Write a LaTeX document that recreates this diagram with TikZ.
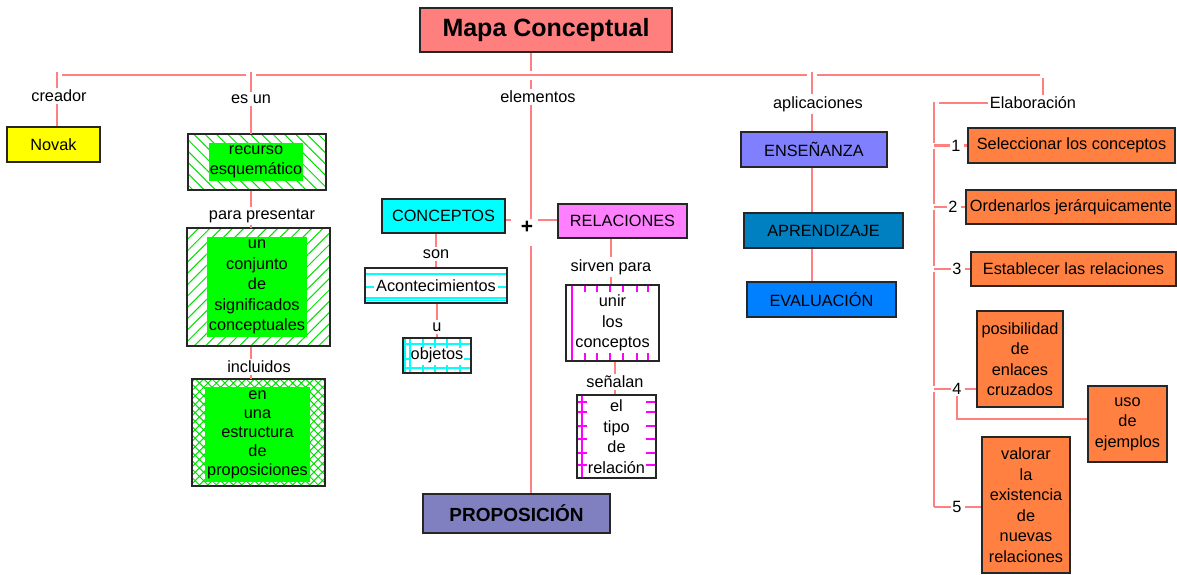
\documentclass[tikz,border=0pt]{standalone}
\usepackage{fontspec}
\setmainfont{Liberation Sans}
\usetikzlibrary{patterns.meta}
\definecolor{pinkline}{HTML}{FF8080}
\definecolor{titlefill}{HTML}{FF7F7F}
\definecolor{novakfill}{HTML}{FFFF00}
\definecolor{gfill}{HTML}{00FF00}
\definecolor{gpat}{HTML}{00E000}
\definecolor{cyfill}{HTML}{00FFFF}
\definecolor{relfill}{HTML}{FF80FF}
\definecolor{magline}{HTML}{FF00FF}
\definecolor{ensfill}{HTML}{8080FF}
\definecolor{aprfill}{HTML}{0080C0}
\definecolor{evafill}{HTML}{0080FF}
\definecolor{orfill}{HTML}{FF8040}
\definecolor{propfill}{HTML}{8080C0}
\definecolor{edge}{HTML}{262626}
\begin{document}
\begin{tikzpicture}[x=1pt, y=-1pt,
  every node/.style={font=\fontsize{16.3}{20.5}\selectfont},
  box/.style={draw=edge, line width=1.3pt, inner sep=0pt, align=center},
  inbox/.style={fill=gfill, inner sep=0pt, align=center},
  conn/.style={draw=pinkline, line width=2.8pt},
  lbl/.style={inner sep=2pt, align=center},
  num/.style={inner sep=1.5pt},
  cydeco/.style={draw=cyfill, line width=1.5pt},
  mgdeco/.style={draw=magline, line width=1.5pt}]
\path[use as bounding box, fill=white] (0,0) rectangle (1177,574);

% ---------- box decorations (drawn first, behind the boxes' text) ----------
\coordinate (aconNW) at (365,268);
\coordinate (objNW) at (403,338);
\coordinate (unirNW) at (566,285);
\coordinate (tipoNW) at (577,395);
\begin{scope}[shift={(aconNW)}]
  \draw[cydeco] (0,6) -- (142,6);
  \draw[cydeco] (0,30) -- (142,30);
  \draw[cydeco] (0,32.5) -- (142,32.5);
  \draw[cydeco] (0,19) -- (9,19);
  \draw[cydeco] (133,19) -- (142,19);
\end{scope}
\begin{scope}[shift={(objNW)}]
  \draw[cydeco] (2,0) -- (2,35);
  \draw[cydeco] (7,0) -- (7,35);
  \draw[cydeco] (0,6) -- (68,6);
  \draw[cydeco] (0,30) -- (68,30);
  \draw[cydeco] (0,21) -- (7,21);
  \draw[cydeco] (61,21) -- (68,21);
  \foreach \xx in {20,32,44,57} {\draw[cydeco] (\xx,0) -- (\xx,10); \draw[cydeco] (\xx,27) -- (\xx,35);}
\end{scope}
\begin{scope}[shift={(unirNW)}]
  \draw[mgdeco] (6,0) -- (6,76);
  \foreach \xx in {19,31,44,57,71,82} {\draw[mgdeco] (\xx,0) -- (\xx,7); \draw[mgdeco] (\xx,68) -- (\xx,76);}
\end{scope}
\begin{scope}[shift={(tipoNW)}]
  \draw[mgdeco] (5,0) -- (5,83);
  \foreach \yy in {7,17,31,44,58,70} {\draw[mgdeco] (0,\yy) -- (10,\yy); \draw[mgdeco] (69,\yy) -- (79,\yy);}
\end{scope}

% ---------- nodes ----------
\node[box, fill=titlefill, minimum width=252, minimum height=44,
      font=\bfseries\fontsize{25}{28}\selectfont] (title) at (546,30) {Mapa Conceptual};
\node[box, fill=novakfill, minimum width=93, minimum height=35] (novak) at (53.5,144.5) {Novak};

\node[box, pattern={Lines[angle=-45,distance=8pt,line width=1pt]}, pattern color=gpat,
      minimum width=138, minimum height=56] (recurso) at (257,162) {};
\node[inbox, minimum width=94, minimum height=38] (recursoin) at (256,162) {recurso\\esquemático};

\node[box, pattern={Lines[angle=45,distance=8pt,line width=1pt]}, pattern color=gpat,
      minimum width=143, minimum height=118] (conj) at (258.5,287) {};
\node[inbox, minimum width=100, minimum height=100] (conjin) at (257,287)
      {un\\conjunto\\de\\significados\\conceptuales};

\node[box, pattern={Hatch[angle=45,distance=6pt,line width=1pt]}, pattern color=gpat,
      minimum width=133, minimum height=107] (estr) at (258.5,432.5) {};
\node[inbox, minimum width=105, minimum height=95, font=\fontsize{16.3}{19}\selectfont] (estrin) at (257.5,434.5)
      {en\\una\\estructura\\de\\proposiciones};

\node[box, fill=cyfill, minimum width=123, minimum height=34] (conc) at (443.5,216) {CONCEPTOS};
\node[box, minimum width=142, minimum height=35] (acon) at (436,285.5) {Acontecimientos};
\node[box, minimum width=68, minimum height=35] (obj) at (437,355.5) {objetos};

\node[box, fill=relfill, minimum width=129, minimum height=34] (rel) at (622.5,221) {RELACIONES};
\node[box, minimum width=93, minimum height=76] (unir) at (612.5,323) {unir\\los\\conceptos};
\node[box, minimum width=79, minimum height=83] (tipo) at (616.5,436.5) {el\\tipo\\de\\relación};

\node[box, fill=propfill, minimum width=187, minimum height=39,
      font=\bfseries\fontsize{19}{22}\selectfont] (prop) at (516.5,513.5) {PROPOSICIÓN};

\node[box, fill=ensfill, minimum width=146, minimum height=35] (ens) at (814,149.5) {ENSEÑANZA};
\node[box, fill=aprfill, minimum width=159, minimum height=35] (apr) at (823.5,230.5) {APRENDIZAJE};
\node[box, fill=evafill, minimum width=149, minimum height=35] (eva) at (821.5,299.5) {EVALUACIÓN};

\node[box, fill=orfill, minimum width=207, minimum height=35] (box1) at (1071.5,145.5) {Seleccionar los conceptos};
\node[box, fill=orfill, minimum width=210, minimum height=34] (box2) at (1071,207) {Ordenarlos jerárquicamente};
\node[box, fill=orfill, minimum width=205, minimum height=34] (box3) at (1073.5,269) {Establecer las relaciones};
\node[box, fill=orfill, minimum width=86, minimum height=96] (box4) at (1020,359) {posibilidad\\de\\enlaces\\cruzados};
\node[box, fill=orfill, minimum width=79, minimum height=76] (uso) at (1127.5,424) {uso\\de\\ejemplos};
\node[box, fill=orfill, minimum width=88, minimum height=136] (box5) at (1026,505)
      {valorar\\la\\existencia\\de\\nuevas\\relaciones};

% ---------- labels ----------
\node[lbl] (lcre) at (59,96) {creador};
\node[lbl] (lesun) at (251,99) {es un};
\node[lbl] (lelem) at (538,97) {elementos};
\node[lbl] (lapl) at (818,104) {aplicaciones};
\node[lbl] (lelab) at (1033,103) {Elaboración};
\node[lbl] (lpara) at (262,216) {para presentar};
\node[lbl] (linc) at (259,367) {incluidos};
\node[lbl] (lson) at (436,254) {son};
\node[lbl] (lu) at (437,327) {u};
\node[lbl] (lsirv) at (611,267) {sirven para};
\node[lbl] (lsen) at (615,382) {señalan};
\node[inner sep=0pt, font=\bfseries\fontsize{21}{21}\selectfont] (plus) at (527,227) {+};
\node[num] (n1) at (956,145.5) {1};
\node[num] (n2) at (953,207) {2};
\node[num] (n3) at (957,269) {3};
\node[num] (n4) at (957,389) {4};
\node[num] (n5) at (957,507) {5};

% ---------- junction coordinates ----------
\coordinate (h1) at (57,75);
\coordinate (h2) at (251,75);
\coordinate (h3) at (531,75);
\coordinate (h4) at (812,75);
\coordinate (h5) at (1043,75);
\coordinate (pt) at (531,219);
\coordinate (pb) at (531,246);
\coordinate (pl) at (511,220);
\coordinate (pr) at (538,220);
\coordinate (b0) at (934,102);
\coordinate (b1) at (934,145.5);
\coordinate (b2) at (934,207);
\coordinate (b3) at (934,269);
\coordinate (b4) at (934,389);
\coordinate (b5) at (934,507);
\coordinate (c4) at (957,419);

% ---------- connectors ----------
\draw[conn, shorten <=5pt, shorten >=5pt] (h1) -- (h2);
\draw[conn, shorten <=5pt, shorten >=5pt] (h2) -- (h4);
\draw[conn, shorten <=5pt, shorten >=3pt] (h4) -- (h5);

\draw[conn, shorten <=-3pt] (h1) -- (h1 |- lcre.north);
\draw[conn] (h1 |- lcre.south) -- (h1 |- novak.north);

\draw[conn, shorten <=-3pt] (h2) -- (h2 |- lesun.north);
\draw[conn] (h2 |- lesun.south) -- (h2 |- recurso.north);
\draw[conn] (h2 |- recurso.south) -- (h2 |- lpara.north);
\draw[conn] (h2 |- lpara.south) -- (h2 |- conj.north);
\draw[conn] (h2 |- conj.south) -- (h2 |- linc.north);
\draw[conn] (h2 |- linc.south) -- (h2 |- estr.north);

\draw[conn, shorten >=4pt] (h3 |- title.south) -- (h3);
\draw[conn, shorten <=5pt] (h3) -- (h3 |- lelem.north);
\draw[conn] (h3 |- lelem.south) -- (pt);
\draw[conn] (pb) -- (h3 |- prop.north);
\draw[conn] (conc.east |- pl) -- (pl);
\draw[conn] (pr) -- (rel.west |- pr);

\draw[conn] (lson |- conc.south) -- (lson) -- (lson |- acon.north);
\draw[conn] (lu |- acon.south) -- (lu) -- (lu |- obj.north);
\draw[conn] (lsirv |- rel.south) -- (lsirv) -- (lsirv |- unir.north);
\draw[conn] (lsen |- unir.south) -- (lsen) -- (lsen |- tipo.north);

\draw[conn, shorten <=-3pt] (h4) -- (h4 |- lapl.north);
\draw[conn] (h4 |- lapl.south) -- (h4 |- ens.north);
\draw[conn] (h4 |- ens.south) -- (h4 |- apr.north);
\draw[conn] (h4 |- apr.south) -- (h4 |- eva.north);

\draw[conn, shorten <=3pt] (h5) -- (h5 |- lelab.north);
\draw[conn, shorten >=5pt] (lelab.west) -- (lelab.west -| b0);
\draw[conn, shorten >=3pt] (b0) -- (b1);
\draw[conn, shorten <=3pt, shorten >=3pt] (b1) -- (b2);
\draw[conn, shorten <=3pt, shorten >=3pt] (b2) -- (b3);
\draw[conn, shorten <=3pt, shorten >=3pt] (b3) -- (b4);
\draw[conn, shorten <=3pt] (b4) -- (b5);
\draw[conn, shorten <=2pt] (b1) -- (n1) -- (box1);
\draw[conn, shorten <=2pt] (b2) -- (n2) -- (box2);
\draw[conn, shorten <=2pt] (b3) -- (n3) -- (box3);
\draw[conn, shorten <=2pt] (b4) -- (n4) -- (n4 -| box4.west);
\draw[conn] (n4) -- (c4) -- (c4 -| uso.west);
\draw[conn, shorten <=2pt] (b5) -- (n5) -- (n5 -| box5.west);
\end{tikzpicture}
\end{document}
